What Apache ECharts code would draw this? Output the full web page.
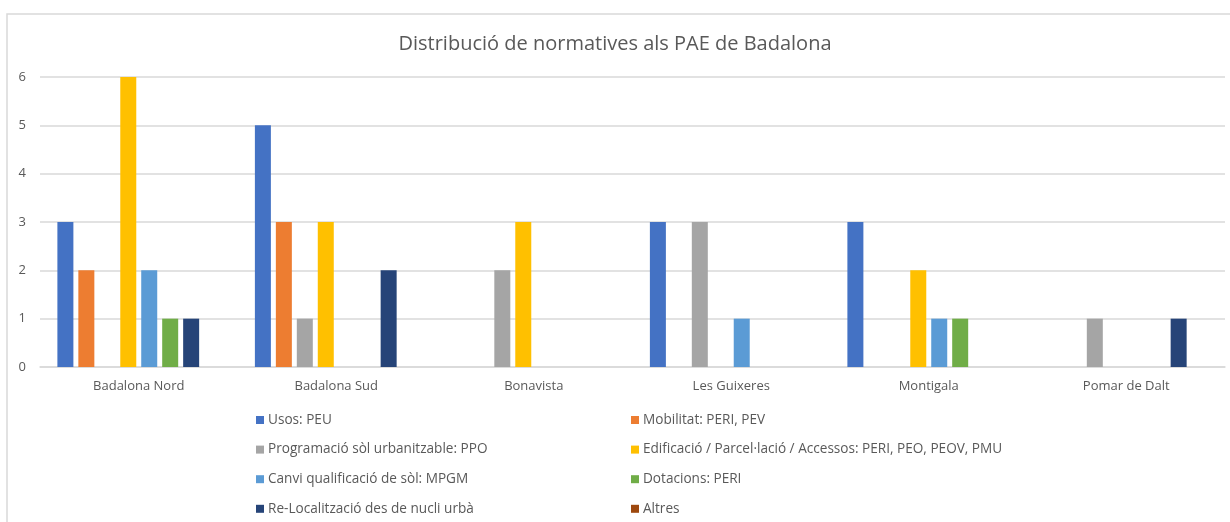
<!DOCTYPE html>
<html><head><meta charset="utf-8">
<script src="https://cdn.jsdelivr.net/npm/echarts@6/dist/echarts.min.js"></script>
<style>html,body{margin:0;padding:0;background:#fff}#c{width:1230px;height:522px}</style>
</head><body><div id="c"></div>
<script>
const categories = ['Badalona Nord','Badalona Sud','Bonavista','Les Guixeres','Montigala','Pomar de Dalt'];
const seriesNames = ['Usos: PEU','Mobilitat: PERI, PEV','Programació sòl urbanitzable: PPO','Edificació / Parcel·lació / Accessos: PERI, PEO, PEOV, PMU','Canvi qualificació de sòl: MPGM','Dotacions: PERI','Re-Localització des de nucli urbà','Altres'];
const colors = ['#4472C4','#ED7D31','#A5A5A5','#FFC000','#5B9BD5','#70AD47','#264478','#9E480E'];
const usos = [3,5,0,3,3,0];
const mobilitat = [2,3,0,0,0,0];
const programacio = [0,1,2,3,0,1];
const edificacio = [6,3,3,0,2,0];
const canvi = [2,0,0,1,1,0];
const dotacions = [1,0,0,0,1,0];
const relocalitzacio = [1,2,0,0,0,1];
const altres = [0,0,0,0,0,0];
const yTicks = [0,1,2,3,4,5,6];
const values = [usos,mobilitat,programacio,edificacio,canvi,dotacions,relocalitzacio,altres];

const chart = echarts.init(document.getElementById('c'));
const font = '"Open Sans", "Noto Sans", sans-serif';
const legendText = {fontFamily:font,fontSize:13.6,lineHeight:14,color:'#595959',padding:[0,0,0,-1]};
chart.setOption({
  animation:false,
  textStyle:{fontFamily:font},
  title:{text:'Distribució de normatives als PAE de Badalona',left:'center',top:29,
    textStyle:{fontFamily:font,fontSize:20,fontWeight:'normal',color:'#595959'}},
  graphic:[{type:'rect',shape:{x:7,y:14,width:1240,height:520},style:{fill:'none',stroke:'#D9D9D9',lineWidth:1.5},silent:true}],
  grid:{left:40,right:5,top:77,bottom:155,containLabel:false},
  legend:[
    {orient:'vertical',left:256,top:413,padding:0,itemWidth:8,itemHeight:8,itemGap:15.6,icon:'rect',
     data:[seriesNames[0],seriesNames[2],seriesNames[4],seriesNames[6]],textStyle:legendText},
    {orient:'vertical',left:631,top:413,padding:0,itemWidth:8,itemHeight:8,itemGap:15.6,icon:'rect',
     data:[seriesNames[1],seriesNames[3],seriesNames[5],seriesNames[7]],textStyle:legendText}
  ],
  xAxis:{type:'category',data:categories,
    axisLine:{lineStyle:{color:'#D9D9D9',width:1.5}},axisTick:{show:false},
    axisLabel:{fontFamily:font,fontSize:13,color:'#595959',margin:13}},
  yAxis:{type:'value',min:yTicks[0],max:yTicks[yTicks.length-1],interval:1,
    axisLine:{show:false},axisTick:{show:false},
    splitLine:{lineStyle:{color:'#D9D9D9',width:1.5}},
    axisLabel:{fontFamily:font,fontSize:13,color:'#595959',margin:14}},
  series:seriesNames.map((n,i)=>({name:n,type:'bar',data:values[i],barWidth:16,barGap:'31%',
    itemStyle:{color:colors[i]}}))
});
</script></body></html>
